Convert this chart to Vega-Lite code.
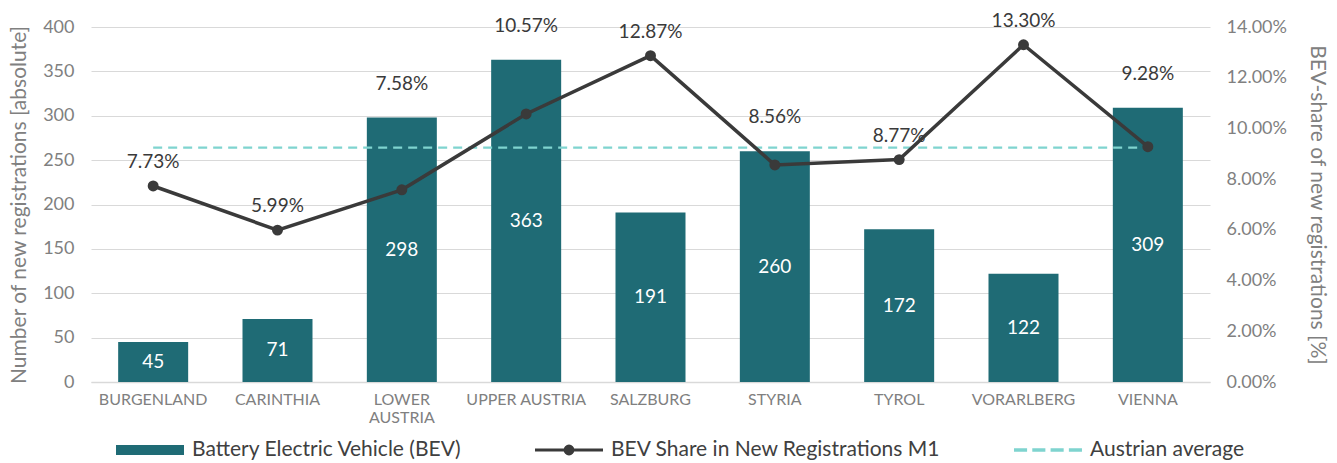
{
  "$schema": "https://vega.github.io/schema/vega-lite/v6.json",
  "width": 1119,
  "height": 355,
  "autosize": {"type": "none"},
  "padding": {"left": 91, "top": 27, "right": 127, "bottom": 81},
  "config": {"font": "Lato", "view": {"stroke": null}},
  "data": {"values": [
    {"region": "BURGENLAND", "count": 45, "share": 0.0773},
    {"region": "CARINTHIA", "count": 71, "share": 0.0599},
    {"region": "LOWER AUSTRIA", "count": 298, "share": 0.0758},
    {"region": "UPPER AUSTRIA", "count": 363, "share": 0.1057},
    {"region": "SALZBURG", "count": 191, "share": 0.1287},
    {"region": "STYRIA", "count": 260, "share": 0.0856},
    {"region": "TYROL", "count": 172, "share": 0.0877},
    {"region": "VORARLBERG", "count": 122, "share": 0.1330},
    {"region": "VIENNA", "count": 309, "share": 0.0928}
  ]},
  "encoding": {
    "x": {
      "field": "region", "type": "nominal", "sort": null,
      "scale": {"paddingInner": 0.437, "paddingOuter": 0.2185},
      "axis": {
        "title": null, "labelAngle": 0, "labelColor": "#808080", "labelFontSize": 16,
        "labelPadding": 9, "ticks": false, "domainColor": "#d9d9d9", "domainWidth": 1.5,
        "labelBaseline": "top", "labelLineHeight": 18,
        "labelExpr": "datum.label == 'LOWER AUSTRIA' ? ['LOWER', 'AUSTRIA'] : datum.label"
      }
    }
  },
  "layer": [
    {
      "layer": [
        {
          "mark": {"type": "bar", "color": "#1f6b75"},
          "encoding": {
            "y": {
              "field": "count", "type": "quantitative",
              "scale": {"domain": [0, 400], "nice": false},
              "axis": {
                "title": "Number of new registrations [absolute]",
                "values": [0, 50, 100, 150, 200, 250, 300, 350, 400],
                "grid": true, "gridColor": "#d9d9d9", "domain": false, "ticks": false,
                "labelColor": "#808080", "labelFontSize": 18, "labelPadding": 17,
                "titleColor": "#808080", "titleFontSize": 21, "titleFontWeight": "normal",
                "titlePadding": 13
              }
            }
          }
        },
        {
          "transform": [{"filter": "datum.count / 400 > datum.share / 0.14"}],
          "mark": {"type": "text", "fontSize": 19, "color": "#3a3a3a", "dy": -34, "baseline": "middle"},
          "encoding": {
            "y": {"field": "count", "type": "quantitative"},
            "text": {"field": "share", "type": "quantitative", "format": ".2%"}
          }
        }
      ]
    },
    {
      "layer": [
        {
          "mark": {"type": "line", "color": "#7fd4cf", "strokeDash": [9, 6], "strokeWidth": 2.2},
          "encoding": {
            "y": {"datum": 0.0924, "type": "quantitative"}
          }
        },
        {
          "mark": {"type": "line", "color": "#3a3a3a", "strokeWidth": 3.5},
          "encoding": {
            "y": {
              "field": "share", "type": "quantitative",
              "scale": {"domain": [0, 0.14], "nice": false},
              "axis": {
                "orient": "right",
                "title": "BEV-share of new registrations [%]",
                "format": ".2%",
                "values": [0, 0.02, 0.04, 0.06, 0.08, 0.1, 0.12, 0.14],
                "grid": false, "domain": false, "ticks": false,
                "labelColor": "#808080", "labelFontSize": 18, "labelPadding": 16,
                "titleColor": "#808080", "titleFontSize": 21, "titleFontWeight": "normal",
                "titlePadding": 20
              }
            }
          }
        },
        {
          "mark": {"type": "point", "filled": true, "size": 120, "color": "#3a3a3a", "opacity": 1},
          "encoding": {"y": {"field": "share", "type": "quantitative"}}
        },
        {
          "transform": [{"filter": "!(datum.count / 400 > datum.share / 0.14)"}],
          "mark": {"type": "text", "fontSize": 19, "color": "#3a3a3a", "dy": -24, "baseline": "middle"},
          "encoding": {
            "y": {"field": "share", "type": "quantitative"},
            "text": {"field": "share", "type": "quantitative", "format": ".2%"}
          }
        },
        {
          "data": {"values": [
            {"series": "Battery Electric Vehicle (BEV)"},
            {"series": "BEV Share in New Registrations M1"},
            {"series": "Austrian average"}
          ]},
          "mark": {"type": "point", "filled": true, "size": 0, "opacity": 1},
          "encoding": {
            "x": {"value": 0},
            "y": {"value": 0},
            "color": {
              "field": "series", "type": "nominal",
              "scale": {
                "domain": ["Battery Electric Vehicle (BEV)", "BEV Share in New Registrations M1", "Austrian average"],
                "range": ["#1f6b75", "#3a3a3a", "#7fd4cf"]
              },
              "legend": {
                "title": null, "orient": "none", "direction": "horizontal", "columns": 3,
                "legendX": 25, "legendY": 389, "columnPadding": 73,
                "symbolSize": 4624, "symbolOpacity": 1, "symbolStrokeWidth": 0,
                "labelFontSize": 21, "labelColor": "#404040", "labelOffset": 8,
                "labelLimit": 500
              }
            },
            "shape": {
              "field": "series", "type": "nominal",
              "scale": {
                "domain": ["Battery Electric Vehicle (BEV)", "BEV Share in New Registrations M1", "Austrian average"],
                "range": [
                  "M-1,-0.147H1V0.147H-1Z",
                  "M-1,-0.045H1V0.045H-1Z M0.16,0L0.1478,0.0612L0.1131,0.1131L0.0612,0.1478L0,0.16L-0.0612,0.1478L-0.1131,0.1131L-0.1478,0.0612L-0.16,0L-0.1478,-0.0612L-0.1131,-0.1131L-0.0612,-0.1478L0,-0.16L0.0612,-0.1478L0.1131,-0.1131L0.1478,-0.0612Z",
                  "M-1,-0.05H-0.615V0.05H-1Z M-0.462,-0.05H-0.077V0.05H-0.462Z M0.076,-0.05H0.461V0.05H0.076Z M0.614,-0.05H0.999V0.05H0.614Z"
                ]
              }
            }
          }
        }
      ]
    },
    {
      "mark": {"type": "text", "fontSize": 19, "color": "#ffffff", "baseline": "middle"},
      "encoding": {
        "y": {"field": "count", "type": "quantitative", "scale": {"domain": [0, 800], "nice": false}, "axis": null},
        "text": {"field": "count", "type": "quantitative"}
      }
    }
  ],
  "resolve": {"scale": {"y": "independent"}}
}
